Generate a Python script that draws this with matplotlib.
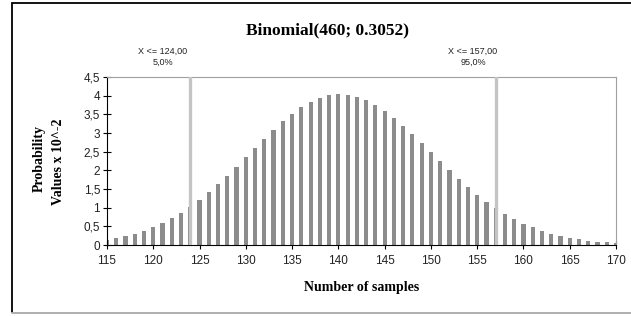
import matplotlib
matplotlib.use("Agg")
import matplotlib.pyplot as plt
from matplotlib.patches import Rectangle

samples = list(range(115, 171))
probs = [0.14, 0.18, 0.24, 0.30, 0.38, 0.47, 0.58, 0.71, 0.86, 1.02,
         1.21, 1.41, 1.63, 1.86, 2.10, 2.35, 2.60, 2.85, 3.09, 3.31,
         3.51, 3.69, 3.83, 3.94, 4.01, 4.04, 4.03, 3.97, 3.88, 3.75,
         3.59, 3.40, 3.19, 2.96, 2.73, 2.48, 2.24, 2.00, 1.77, 1.55,
         1.34, 1.15, 0.98, 0.83, 0.69, 0.57, 0.47, 0.38, 0.30, 0.24,
         0.19, 0.15, 0.12, 0.09, 0.07, 0.05]
markers = [124, 157]
marker_labels = ["X <= 124,00\n5,0%", "X <= 157,00\n95,0%"]
yticks = [0, 0.5, 1, 1.5, 2, 2.5, 3, 3.5, 4, 4.5]
ytick_labels = ["0", "0,5", "1", "1,5", "2", "2,5", "3", "3,5", "4", "4,5"]
xticks = list(range(115, 171, 5))

W, H = 631, 316
fig = plt.figure(figsize=(W / 100, H / 100), dpi=100)
fig.patch.set_facecolor("white")

# outer frame
fig.add_artist(Rectangle((12 / W, 3 / H), 1.2, (310) / H, transform=fig.transFigure,
                         fill=False, edgecolor="black", linewidth=1.3))
fig.add_artist(plt.Line2D([12 / W, 1], [3 / H, 3 / H], transform=fig.transFigure,
                          color="#d0d0d0", linewidth=1.2))

ax = fig.add_axes([107 / W, (H - 245) / H, (616 - 107) / W, (245 - 77) / H])
ax.bar(samples, probs, width=0.45, color="#8c8c8c", zorder=2)
for m in markers:
    ax.axvline(m, ymin=0, ymax=1, color="#c4c4c4", linewidth=2.4, zorder=3)

ax.set_xlim(115, 170)
ax.set_ylim(0, 4.5)
ax.set_yticks(yticks)
ax.set_yticklabels(ytick_labels)
ax.set_xticks(xticks)
ax.tick_params(axis="both", direction="inout", length=6, width=0.8,
               labelsize=8.5, labelcolor="#222222", pad=2)
for lab in ax.get_xticklabels() + ax.get_yticklabels():
    lab.set_family("Liberation Sans")
ax.tick_params(axis="x", pad=4)

ax.spines["left"].set_color("black")
ax.spines["bottom"].set_color("black")
ax.spines["top"].set_color("#a0a0a0")
ax.spines["right"].set_color("#a0a0a0")
ax.spines["top"].set_linewidth(0.8)
ax.spines["right"].set_linewidth(0.8)

fig.text(327 / W, 1 - 30 / H, "Binomial(460; 0.3052)", ha="center", va="center",
         family="Liberation Serif", fontweight="bold", fontsize=12.5)
fig.text(362 / W, 1 - 288 / H, "Number of samples", ha="center", va="center",
         family="Liberation Serif", fontweight="bold", fontsize=10)
fig.text(39 / W, 1 - 158 / H, "Probability", ha="center", va="center", rotation=90,
         family="Liberation Serif", fontweight="bold", fontsize=10)
fig.text(59 / W, 1 - 162 / H, "Values x 10^-2", ha="center", va="center", rotation=90,
         family="Liberation Serif", fontweight="bold", fontsize=10)

label_x = [163, 473]
for x, t in zip(label_x, marker_labels):
    fig.text(x / W, 1 - 57 / H, t, ha="center", va="center", family="Liberation Sans",
             fontsize=6.5, linespacing=1.3, color="#222222")

fig.savefig("out.png", dpi=100)
